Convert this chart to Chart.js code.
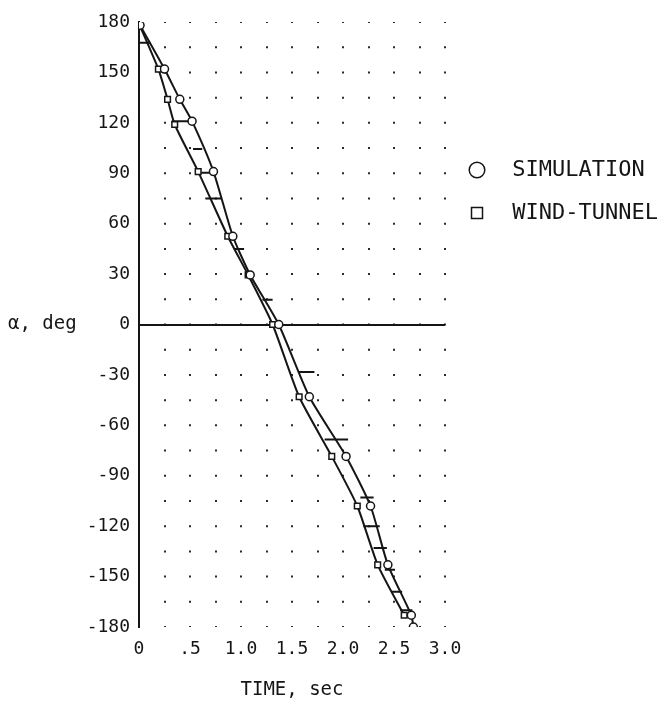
<!DOCTYPE html>
<html>
<head>
<meta charset="utf-8">
<script src="https://cdn.jsdelivr.net/npm/chart.js@4/dist/chart.umd.min.js"></script>
<style>
html,body{margin:0;padding:0;background:#fff;}
#wrap{width:662px;height:705px;position:relative;}
canvas{display:block;}
</style>
</head>
<body>
<div id="wrap"><canvas id="c" width="662" height="705" style="width:662px;height:705px"></canvas></div>
<script>
// ---- data ----
const xTickValues = [0, 0.5, 1.0, 1.5, 2.0, 2.5, 3.0];
const xTickLabels = ['0', '.5', '1.0', '1.5', '2.0', '2.5', '3.0'];
const yTickValues = [180, 150, 120, 90, 60, 30, 0, -30, -60, -90, -120, -150, -180];

const simTime  = [0.01, 0.25, 0.40, 0.52, 0.73, 0.92, 1.09, 1.37, 1.67, 2.03, 2.27, 2.44, 2.67, 2.69];
const simAlpha = [178, 152, 134, 121, 91, 52.5, 29.5, 0, -43, -78.5, -108, -143, -173, -180];

const wtTime  = [0.0, 0.19, 0.28, 0.35, 0.58, 0.87, 1.07, 1.31, 1.57, 1.89, 2.14, 2.34, 2.60];
const wtAlpha = [179, 152, 134, 119, 91, 52.5, 29.5, 0, -43, -78.5, -108, -143, -173];

// horizontal scatter bars between the two traces
const barAlpha     = [167.6, 121, 104.5, 90.3, 75, 45, 14.8, -28.3, -68.5, -103, -120, -133, -146, -159, -170];
const barTimeStart = [0.00, 0.32, 0.53, 0.57, 0.65, 0.93, 1.21, 1.56, 1.82, 2.17, 2.20, 2.30, 2.41, 2.48, 2.56];
const barTimeEnd   = [0.11, 0.52, 0.62, 0.75, 0.81, 1.03, 1.31, 1.72, 2.05, 2.30, 2.36, 2.43, 2.51, 2.58, 2.68];

// ---- build datasets ----
const simData = simTime.map((t, i) => ({x: t, y: simAlpha[i]}));
const wtData = wtTime.map((t, i) => ({x: t, y: wtAlpha[i]}));
const barData = [];
barAlpha.forEach((a, i) => {
  barData.push({x: barTimeStart[i], y: a});
  barData.push({x: barTimeEnd[i], y: a});
  barData.push({x: barTimeEnd[i], y: null});
});

const INK = '#151515';
const FONT = "'DejaVu Sans Mono', monospace";

const alphaTitle = {
  id: 'alphaTitle',
  afterDraw(chart) {
    const c = chart.ctx;
    const y = chart.scales.y.getPixelForValue(0);
    c.save();
    c.font = "19px " + FONT;
    c.fillStyle = INK;
    c.textAlign = 'left';
    c.textBaseline = 'middle';
    c.fillText('\u03b1, deg', 8, y);
    c.restore();
  }
};

new Chart(document.getElementById('c'), {
  type: 'scatter',
  data: {
    datasets: [
      {
        label: ' SIMULATION',
        data: simData,
        showLine: true,
        borderColor: INK,
        borderWidth: 2,
        pointStyle: 'circle',
        pointRadius: 4,
        pointBorderWidth: 1.5,
        pointBorderColor: INK,
        pointBackgroundColor: '#fff',
        backgroundColor: '#fff',
        tension: 0.2
      },
      {
        label: ' WIND-TUNNEL',
        data: wtData,
        showLine: true,
        borderColor: INK,
        borderWidth: 2,
        pointStyle: 'rect',
        pointRadius: 4,
        pointBorderWidth: 1.5,
        pointBorderColor: INK,
        pointBackgroundColor: '#fff',
        backgroundColor: '#fff',
        tension: 0.2
      },
      {
        label: 'bars',
        data: barData,
        showLine: true,
        spanGaps: false,
        borderColor: INK,
        borderWidth: 2,
        pointRadius: 0,
        pointHoverRadius: 0
      }
    ]
  },
  options: {
    responsive: false,
    animation: false,
    devicePixelRatio: 1,
    layout: {padding: {left: 10, top: 22, right: 0, bottom: 0}},
    plugins: {
      tooltip: {enabled: false},
      legend: {
        position: 'right',
        align: 'start',
        maxWidth: 217,
        title: {display: true, text: '', font: {size: 10}, padding: {top: 104, bottom: 0}},
        labels: {
          usePointStyle: true,
          boxHeight: 11,
          padding: 21,
          color: INK,
          font: {family: FONT, size: 22},
          filter: (item) => item.text !== 'bars'
        }
      }
    },
    scales: {
      x: {
        type: 'linear',
        min: 0,
        max: 3,
        afterFit: (s) => { s.height = 78; },
        afterBuildTicks: (s) => {
          const t = [];
          for (let i = 0; i <= 12; i++) t.push({value: i * 0.25});
          s.ticks = t;
        },
        ticks: {
          color: INK,
          font: {family: FONT, size: 18},
          padding: 12,
          maxRotation: 0,
          autoSkip: false,
          callback: (v) => {
            const k = xTickValues.findIndex(q => Math.abs(q - v) < 1e-6);
            return k >= 0 ? xTickLabels[k] : '';
          }
        },
        grid: {
          drawTicks: false,
          color: (ctx) => (ctx.tick && ctx.tick.value === 0) ? INK : '#2a2a2a',
          lineWidth: 2
        },
        border: {
          display: false,
          dash: (ctx) => {
            if (ctx.tick && ctx.tick.value === 0) return [];
            const a = ctx.chart.chartArea;
            const step = a ? (a.bottom - a.top) / 24 : 25;
            return [2, step - 2];
          },
          dashOffset: 1
        },
        title: {
          display: true,
          text: 'TIME, sec',
          color: INK,
          font: {family: FONT, size: 19},
          padding: {top: 8}
        }
      },
      y: {
        type: 'linear',
        min: -180,
        max: 180,
        afterFit: (s) => { s.width = 129; },
        afterBuildTicks: (s) => {
          const t = [];
          for (let i = 0; i <= 24; i++) t.push({value: -180 + i * 15});
          s.ticks = t;
        },
        ticks: {
          color: INK,
          font: {family: FONT, size: 18},
          padding: 9,
          autoSkip: false,
          callback: (v) => yTickValues.includes(v) ? String(v) : ''
        },
        grid: {
          drawTicks: false,
          color: (ctx) => (ctx.tick && ctx.tick.value === 0) ? INK : 'rgba(0,0,0,0)',
          lineWidth: 2
        },
        border: {display: true, color: INK, width: 2}
      }
    }
  },
  plugins: [alphaTitle]
});
</script>
</body>
</html>
